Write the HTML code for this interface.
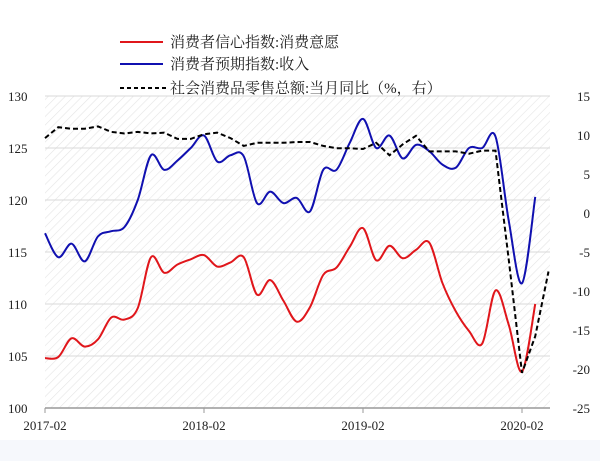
<!DOCTYPE html>
<html><head><meta charset="utf-8"><style>
body{margin:0;background:#fff;width:600px;height:461px;overflow:hidden}
svg{display:block}
text{font-family:"Liberation Serif","Noto Serif CJK SC",serif;fill:#222}
</style></head><body>
<svg id="chart" width="600" height="461">
<defs><pattern id="hatch" width="6" height="6" patternUnits="userSpaceOnUse" patternTransform="rotate(45)"><line x1="0" y1="0" x2="0" y2="6" stroke="#e4e4e4" stroke-width="1.2"/></pattern></defs>
<rect x="0" y="440" width="600" height="21" fill="#f6f8fc"/>
<rect x="45" y="96" width="505" height="312" fill="url(#hatch)"/>
<g id="grid"></g><g id="axes"></g><g id="series"></g>
<g id="legend">
<line x1="120" y1="42" x2="163" y2="42" stroke="#e0161b" stroke-width="2"/>
<text x="170" y="47" font-size="15">消费者信心指数:消费意愿</text>
<line x1="120" y1="64" x2="163" y2="64" stroke="#1010b0" stroke-width="2"/>
<text x="170" y="69" font-size="15">消费者预期指数:收入</text>
<line x1="120" y1="88" x2="166" y2="88" stroke="#000" stroke-width="2" stroke-dasharray="4,3"/>
<text x="170" y="93" font-size="15">社会消费品零售总额:当月同比（%，右）</text>
</g>
</svg>
<script>
const xLabels=["2017-02","2018-02","2019-02","2020-02"];
const xLabelIdx=[0,12,24,36];
const leftTicks=[100,105,110,115,120,125,130];
const rightTicks=[-25,-20,-15,-10,-5,0,5,10,15];
const willingness=[104.8,104.9,106.7,105.9,106.6,108.7,108.5,109.6,114.5,113.0,113.8,114.3,114.7,113.6,114.0,114.5,110.9,112.3,110.3,108.3,109.7,112.8,113.5,115.5,117.3,114.2,115.6,114.4,115.2,115.9,112.0,109.3,107.4,106.2,111.3,108.0,103.5,110.0];
const income=[116.8,114.5,115.8,114.1,116.5,117.0,117.4,120.0,124.3,122.9,123.8,125.0,126.2,123.7,124.3,124.2,119.7,120.8,119.7,120.2,118.9,122.9,122.9,125.5,127.8,125.0,126.2,124.0,125.3,124.7,123.4,123.1,125.0,125.0,126.1,118.0,112.0,120.3];
const retail=[9.6,11.0,10.8,10.8,11.1,10.4,10.2,10.4,10.2,10.3,9.5,9.5,10.1,10.3,9.6,8.6,9.0,9.0,9.0,9.1,9.1,8.6,8.3,8.3,8.2,9.0,7.4,8.8,9.9,7.9,7.9,7.9,7.6,8.0,8.0,-6.0,-20.5,-15.8,-7.5];

const NS="http://www.w3.org/2000/svg";
const X0=45,X1=550,YT=96,YB=408,PPM=13.25;
const xs=i=>X0+i*PPM;
const yl=v=>YB-(v-100)/30*(YB-YT);
const yr=v=>YB-(v+25)/40*(YB-YT);
function mk(tag,attrs,parent){const e=document.createElementNS(NS,tag);for(const k in attrs)e.setAttribute(k,attrs[k]);parent.appendChild(e);return e;}
const grid=document.getElementById('grid'),axes=document.getElementById('axes'),series=document.getElementById('series');
leftTicks.forEach(v=>{
  if(v>100){const g=mk('line',{x1:X0,x2:X1,y1:yl(v),y2:yl(v),stroke:'#d9d9d9','stroke-width':1},grid);
  
  }
  const t=mk('text',{x:8,y:yl(v)+5,'font-size':13},axes);t.textContent=v;
  
  
});
rightTicks.forEach(v=>{
  const t=mk('text',{x:590,y:yr(v)+5,'font-size':13,'text-anchor':'end'},axes);t.textContent=v;
  
  
});
const ax=mk('line',{x1:X0,x2:X1,y1:YB,y2:YB,stroke:'#999','stroke-width':1.5},axes);


xLabels.forEach((l,k)=>{
  const x=xs(xLabelIdx[k]);
  const tk=mk('line',{x1:x,x2:x,y1:YB,y2:YB+5,stroke:'#999'},axes);
  
  
  const t=mk('text',{x:x,y:YB+22,'font-size':13,'text-anchor':'middle'},axes);t.textContent=l;
  
  
});
function smooth(pts){let d=`M${pts[0][0]},${pts[0][1]}`;for(let i=0;i<pts.length-1;i++){const p0=pts[i-1]||pts[i],p1=pts[i],p2=pts[i+1],p3=pts[i+2]||p2;
const c1=[p1[0]+(p2[0]-p0[0])/6,p1[1]+(p2[1]-p0[1])/6],c2=[p2[0]-(p3[0]-p1[0])/6,p2[1]-(p3[1]-p1[1])/6];
d+=`C${c1[0]},${c1[1]} ${c2[0]},${c2[1]} ${p2[0]},${p2[1]}`;}return d;}
const r=mk('path',{d:smooth(willingness.map((v,i)=>[xs(i),yl(v)])),fill:'none',stroke:'#e0161b','stroke-width':2},series);


const b=mk('path',{d:smooth(income.map((v,i)=>[xs(i),yl(v)])),fill:'none',stroke:'#1010b0','stroke-width':2},series);


const d=mk('path',{d:'M'+retail.map((v,i)=>xs(i)+','+yr(v)).join('L'),fill:'none',stroke:'#000','stroke-width':2,'stroke-dasharray':'5,3'},series);


</script>
</body></html>
